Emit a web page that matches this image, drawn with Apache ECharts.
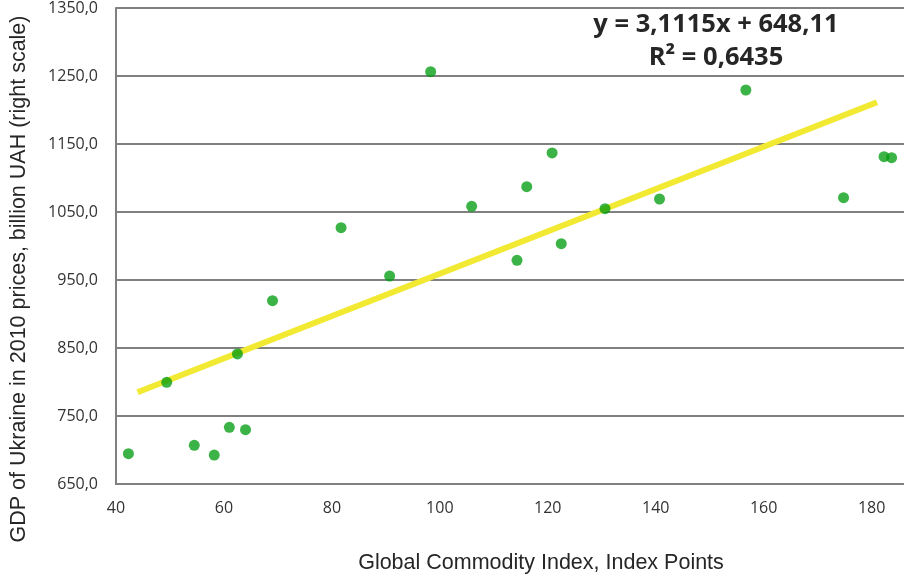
<!DOCTYPE html>
<html>
<head>
<meta charset="utf-8">
<script src="https://cdn.jsdelivr.net/npm/echarts@6/dist/echarts.min.js"></script>
<style>
  html, body { margin: 0; padding: 0; background: #ffffff; }
  #chart { width: 904px; height: 574px; }
</style>
</head>
<body>
<div id="chart"></div>
<script>
// Global commodity index (x) against Ukraine's GDP in 2010 prices (y)
const commodityIndex = [42.3, 49.4, 54.5, 58.2, 61.0, 62.5, 64.0, 69.0, 81.7, 90.7, 98.3,
                        105.9, 114.3, 116.1, 120.8, 122.5, 130.6, 140.7, 156.7, 174.8, 182.3, 183.7];
const gdpUah = [694.6, 799.6, 706.9, 692.6, 733.4, 841.2, 729.9, 919.6, 1026.9, 955.9, 1256.3,
                1058.4, 979.0, 1087.2, 1136.8, 1003.4, 1054.9, 1069.1, 1229.4, 1071.0, 1131.3, 1129.9];

// Linear trend as printed on the chart
const trendSlope = 3.1115;
const trendIntercept = 648.11;
const trendRange = [44, 181];
const equationLines = ['y = 3,1115x + 648,11', 'R² = 0,6435'];

const xAxisName = 'Global Commodity Index, Index Points';
const yAxisName = 'GDP of Ukraine in 2010 prices, billion UAH (right scale)';

const points = commodityIndex.map((x, i) => [x, gdpUah[i]]);
const trendPoints = trendRange.map(x => [x, trendSlope * x + trendIntercept]);

const gridColor = '#808080';
const chart = echarts.init(document.getElementById('chart'));
chart.setOption({
  animation: false,
  backgroundColor: '#ffffff',
  grid: { left: 116, right: 0, top: 8, bottom: 90, containLabel: false, outerBoundsMode: 'none' },
  xAxis: {
    type: 'value',
    min: 40, max: 186, interval: 20,
    axisLine: { show: true, lineStyle: { color: gridColor, width: 2 } },
    axisTick: { show: false },
    splitLine: { show: false },
    axisLabel: {
      showMaxLabel: false,
      margin: 16,
      color: '#333333',
      fontFamily: 'Open Sans',
      fontSize: 16
    },
    name: xAxisName,
    nameLocation: 'middle',
    nameGap: 68,
    nameTextStyle: {
      color: '#262626', fontFamily: 'Liberation Sans', fontSize: 21.5,
      padding: [0, 0, 0, 62]
    }
  },
  yAxis: {
    type: 'value',
    min: 650, max: 1350, interval: 100,
    axisLine: { show: true, lineStyle: { color: gridColor, width: 2 } },
    axisTick: { show: false },
    splitLine: { show: true, lineStyle: { color: gridColor, width: 2 } },
    axisLabel: {
      margin: 18,
      color: '#333333',
      fontFamily: 'Open Sans',
      fontSize: 16,
      formatter: v => v.toFixed(1).replace('.', ',')
    },
    name: yAxisName,
    nameLocation: 'middle',
    nameGap: 86,
    nameRotate: 90,
    nameTextStyle: {
      color: '#262626', fontFamily: 'Liberation Sans', fontSize: 21.5,
      padding: [0, 66, 0, 0]
    }
  },
  graphic: [
    {
      type: 'text', x: 716, y: 12, z: 10,
      style: {
        text: equationLines[0], fill: '#262626', align: 'center',
        font: 'bold 25.5px "Open Sans"'
      }
    },
    {
      type: 'text', x: 716, y: 45, z: 10,
      style: {
        text: equationLines[1], fill: '#262626', align: 'center',
        font: 'bold 25.5px "Open Sans"'
      }
    }
  ],
  series: [
    {
      type: 'line',
      data: trendPoints,
      symbol: 'none',
      lineStyle: { color: '#f2e932', width: 6 },
      z: 2
    },
    {
      type: 'scatter',
      data: points,
      symbol: 'circle',
      symbolSize: 11,
      itemStyle: { color: 'rgb(0,156,14)', opacity: 0.77 },
      z: 3
    }
  ]
});
</script>
</body>
</html>
